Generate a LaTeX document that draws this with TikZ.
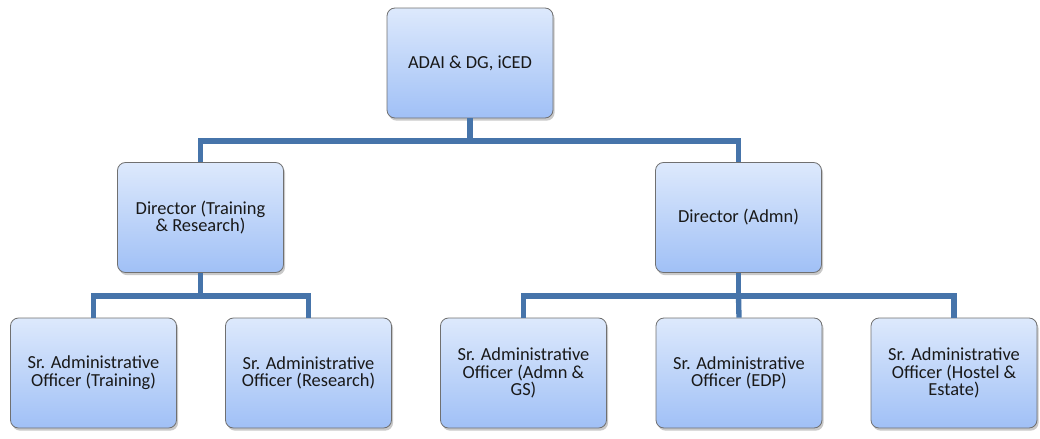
\documentclass[tikz,border=0pt]{standalone}
\usepackage{fontspec}
\setmainfont{Carlito}
\usetikzlibrary{shadows}
\definecolor{barblue}{RGB}{70,116,170}
\definecolor{boxtop}{RGB}{221,233,252}
\definecolor{boxbot}{RGB}{160,192,246}
\definecolor{boxedge}{RGB}{112,112,112}

\begin{document}
\begin{tikzpicture}[x=0.75pt, y=-0.75pt,
	post/.style={draw=boxedge, line width=0.6pt, rounded corners=6pt,
		top color=boxtop, bottom color=boxbot,
		minimum width=124.5pt, minimum height=82.5pt, inner sep=2pt,
		align=center, text=black!90, font=\fontsize{13.8}{13.3}\selectfont,
		drop shadow={shadow xshift=1.2pt, shadow yshift=-2pt, opacity=0.3, fill=black!70}},
	link/.style={barblue, line width=4pt}]
	\useasboundingbox (0,0) rectangle (1040,439);
	% top level
	\node[post] (adai) at (470,63) {ADAI \& DG, iCED};
	% directors
	\node[post] (dtr) at (200.5,217.5) {Director (Training\\ \& Research)};
	\node[post] (dadm) at (738.5,217.5) {Director (Admn)};
	% officers
	\node[post] (otrain) at (93.5,373) {Sr. Administrative\\ Officer (Training)};
	\node[post] (ores) at (308.5,373) {Sr. Administrative\\ Officer (Research)};
	\node[post] (oadgs) at (523.5,373) {Sr. Administrative\\ Officer (Admn \&\\ GS)};
	\node[post] (oedp) at (739,373) {Sr. Administrative\\ Officer (EDP)};
	\node[post] (ohost) at (954,373) {Sr. Administrative\\ Officer (Hostel \&\\ Estate)};
	% joints of the bars
	\coordinate (j1) at (470,141);
	\coordinate (j2) at (200.5,296);
	\coordinate (j3) at (738.5,296);
	\draw[link] (adai.south) -- (j1);
	\draw[link] (dtr.north) |- (j1) -| (dadm.north);
	\draw[link] (dtr.south) -- (j2);
	\draw[link] (otrain.north) |- (j2) -| (ores.north);
	\draw[link] (dadm.south) -- (j3);
	\draw[link] (oadgs.north) |- (j3) -| (ohost.north);
	\draw[link] (j3) -- (oedp.north);
\end{tikzpicture}
\end{document}
